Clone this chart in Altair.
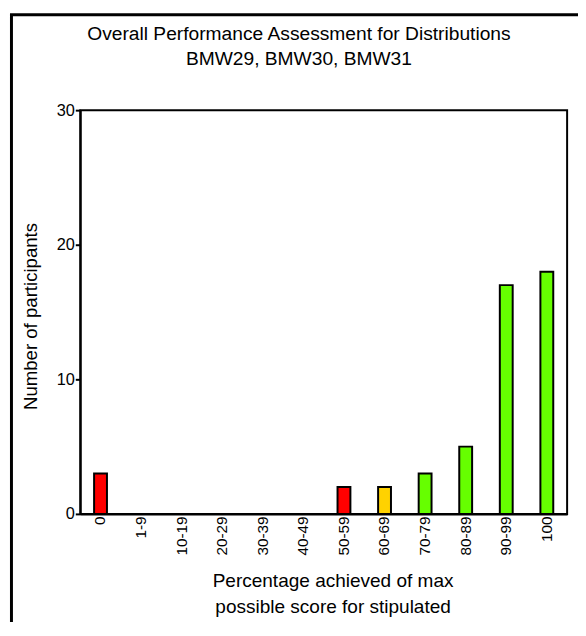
import altair as alt
import pandas as pd

# ---- data ----
categories = ["0", "1-9", "10-19", "20-29", "30-39", "40-49", "50-59",
              "60-69", "70-79", "80-89", "90-99", "100"]
counts = [3, 0, 0, 0, 0, 0, 2, 2, 3, 5, 17, 18]
grades = ["poor", "poor", "poor", "poor", "poor", "poor", "poor",
          "fair", "good", "good", "good", "good"]
grade_domain = ["poor", "fair", "good"]
grade_colors = ["#ff0000", "#ffd200", "#66ff00"]

title_lines = ["Overall Performance Assessment for Distributions",
               "BMW29, BMW30, BMW31"]
x_title = ["Percentage achieved of max", "possible score for stipulated"]
y_title = "Number of participants"
y_ticks = [0, 10, 20, 30]

df = pd.DataFrame({"range": categories, "count": counts, "grade": grades})
one = pd.DataFrame({"k": [0]})

FONT = "Liberation Sans"

bars = alt.Chart(df).transform_filter("datum.count > 0").mark_bar(
    size=13, stroke="black", strokeWidth=2
).encode(
    x=alt.X("range:N", sort=categories,
            scale=alt.Scale(domain=categories, paddingInner=0, paddingOuter=0),
            axis=alt.Axis(title=x_title, labelAngle=270, labelFontSize=15.5,
                          labelFont=FONT, labelColor="black", ticks=False,
                          tickSize=0, labelPadding=2,
                          titleFont=FONT, titleFontSize=19.2, titleFontWeight="normal",
                          titleColor="black", titleX=255, titleY=73,
                          titleBaseline="alphabetic", titleAlign="center",
                          titleLineHeight=27, domainColor="black", domainWidth=2)),
    y=alt.Y("count:Q", scale=alt.Scale(domain=[0, 30], nice=False),
            axis=alt.Axis(title=y_title, values=y_ticks, labelFontSize=16.5,
                          labelFont=FONT, labelColor="black", tickSize=5,
                          tickWidth=2, tickColor="black", labelPadding=1,
                          titleFont=FONT, titleFontSize=18.8, titleFontWeight="normal",
                          titleColor="black", titleAngle=270, titleX=-44,
                          titleY=208, titleBaseline="alphabetic",
                          titleAlign="center", domainColor="black",
                          domainWidth=2, grid=False)),
    color=alt.Color("grade:N", scale=alt.Scale(domain=grade_domain, range=grade_colors),
                    legend=None),
)

frame = alt.Chart(one).mark_rect(
    fill="transparent", stroke="black", strokeWidth=3, clip=False
).encode(x=alt.value(-69.5), x2=alt.value(600), y=alt.value(-96.5), y2=alt.value(600))

title = alt.Chart(one).mark_text(
    text=title_lines, font=FONT, fontSize=19.4, lineHeight=25,
    baseline="alphabetic", align="center", color="black"
).encode(x=alt.value(221), y=alt.value(-71))

chart = alt.layer(frame, bars, title).properties(
    width=492, height=408,
    padding={"left": 73, "top": 100, "right": 11, "bottom": 106},
    autosize=alt.AutoSizeParams(type="none"),
    background="white",
).configure_view(stroke="black", strokeWidth=2).configure_axis(grid=False)

chart.save("out.html", embed_options={"renderer": "svg", "actions": False})
